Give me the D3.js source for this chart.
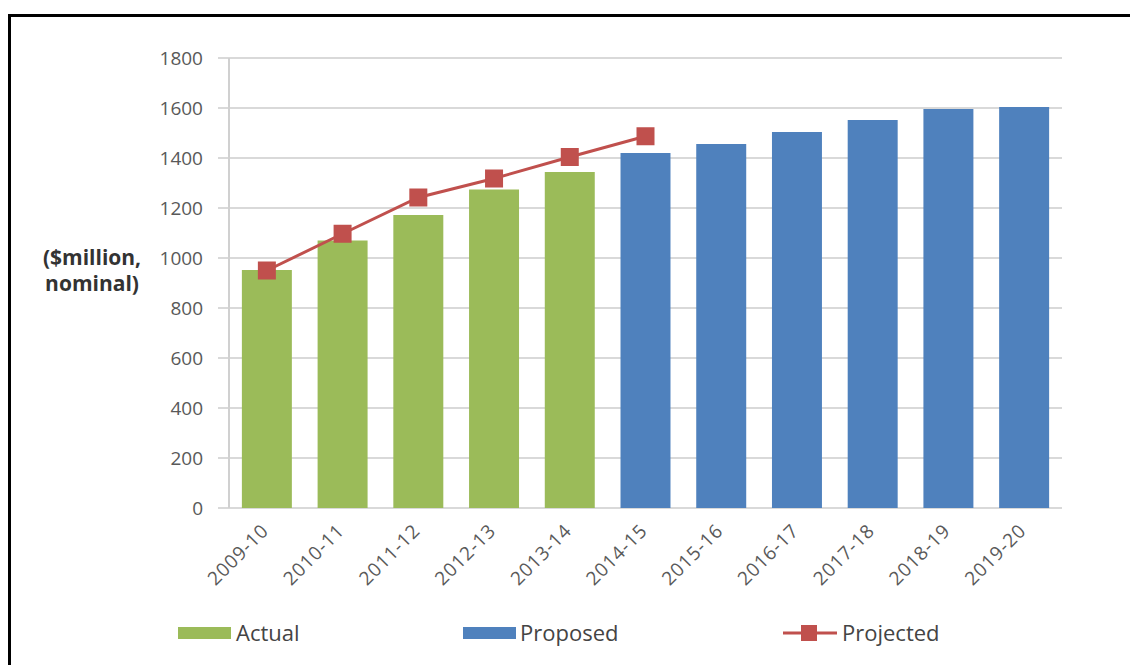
<!DOCTYPE html>
<html>
<head>
<meta charset="utf-8">
<script src="https://cdn.jsdelivr.net/npm/d3@7"></script>
<style>
    body { margin: 0; background: #fff; }
    svg { display: block; font-family: "Open Sans", "DejaVu Sans", sans-serif; }
</style>
</head>
<body>
<div id="chart"></div>
<script>
// chart data
let years = ["2009-10", "2010-11", "2011-12", "2012-13", "2013-14", "2014-15",
    "2015-16", "2016-17", "2017-18", "2018-19", "2019-20"];
let budget = [952, 1070, 1172, 1274, 1344, 1420, 1456, 1504, 1552, 1596, 1604];
let status = ["Actual", "Actual", "Actual", "Actual", "Actual", "Proposed",
    "Proposed", "Proposed", "Proposed", "Proposed", "Proposed"];
let projYears = ["2009-10", "2010-11", "2011-12", "2012-13", "2013-14", "2014-15"];
let projected = [950, 1097, 1242, 1318, 1404, 1487];
let yTicks = [0, 200, 400, 600, 800, 1000, 1200, 1400, 1600, 1800];

let colors = {Actual: "#9bbb59", Proposed: "#4f81bd", Projected: "#c0504d"};

let width = 1130, height = 665;
let margin = {top: 58, right: 68, bottom: 157, left: 229};

let svg = d3.select("#chart").append("svg")
    .attr("width", width)
    .attr("height", height);

// outer frame (top and left edges visible)
svg.append("path")
    .attr("d", "M9.5,665 V15.5 H1130")
    .attr("fill", "none")
    .attr("stroke", "#000")
    .attr("stroke-width", 3);

let x = d3.scaleBand()
    .domain(years)
    .range([margin.left, width - margin.right])
    .paddingInner(0.34)
    .paddingOuter(0.17);

let y = d3.scaleLinear()
    .domain([0, 1800])
    .range([height - margin.bottom, margin.top]);

// gridlines
svg.append("g")
    .selectAll("line")
    .data(yTicks)
    .enter()
    .append("line")
    .attr("x1", margin.left - 11)
    .attr("x2", width - margin.right)
    .attr("y1", d => y(d))
    .attr("y2", d => y(d))
    .attr("stroke", "#d9d9d9")
    .attr("stroke-width", 2);

// y axis line
svg.append("line")
    .attr("x1", margin.left).attr("x2", margin.left)
    .attr("y1", y(1800)).attr("y2", y(0))
    .attr("stroke", "#d0d0d0")
    .attr("stroke-width", 2);

// y tick labels
svg.append("g")
    .selectAll("text")
    .data(yTicks)
    .enter()
    .append("text")
    .attr("x", 203)
    .attr("y", d => y(d))
    .attr("dy", "0.35em")
    .attr("text-anchor", "end")
    .attr("font-size", 19)
    .attr("fill", "#595959")
    .text(d => d);

// y axis title
let ytitle = svg.append("text")
    .attr("text-anchor", "middle")
    .attr("font-size", 21)
    .attr("font-weight", "bold")
    .attr("fill", "#333");
ytitle.append("tspan").attr("x", 92).attr("y", 265).text("($million,");
ytitle.append("tspan").attr("x", 92).attr("y", 291).text("nominal)");

// bars
svg.append("g")
    .selectAll("rect")
    .data(years)
    .enter()
    .append("rect")
    .attr("x", d => x(d))
    .attr("width", x.bandwidth())
    .attr("y", (d, i) => y(budget[i]))
    .attr("height", (d, i) => y(0) - y(budget[i]))
    .attr("fill", (d, i) => colors[status[i]]);

// projected line
let line = d3.line()
    .x((d, i) => x(projYears[i]) + x.bandwidth() / 2)
    .y(d => y(d));

svg.append("path")
    .datum(projected)
    .attr("d", line)
    .attr("fill", "none")
    .attr("stroke", colors.Projected)
    .attr("stroke-width", 3);

svg.append("g")
    .selectAll("rect")
    .data(projected)
    .enter()
    .append("rect")
    .attr("x", (d, i) => x(projYears[i]) + x.bandwidth() / 2 - 9)
    .attr("y", d => y(d) - 9)
    .attr("width", 18)
    .attr("height", 18)
    .attr("fill", colors.Projected);

// x labels, rotated
svg.append("g")
    .selectAll("text")
    .data(years)
    .enter()
    .append("text")
    .attr("transform", d => `translate(${x(d) + x.bandwidth() / 2 + 3}, ${y(0) + 24}) rotate(-45)`)
    .attr("text-anchor", "end")
    .attr("font-size", 19)
    .attr("letter-spacing", 0.8)
    .attr("fill", "#595959")
    .text(d => d);

// legend
let legY = 633;
let legend = svg.append("g");

legend.append("rect")
    .attr("x", 178).attr("y", legY - 6)
    .attr("width", 53).attr("height", 12)
    .attr("fill", colors.Actual);
legend.append("text")
    .attr("x", 236).attr("y", legY).attr("dy", "0.35em")
    .attr("font-size", 22).attr("fill", "#444")
    .text("Actual");

legend.append("rect")
    .attr("x", 463).attr("y", legY - 6)
    .attr("width", 53).attr("height", 12)
    .attr("fill", colors.Proposed);
legend.append("text")
    .attr("x", 520).attr("y", legY).attr("dy", "0.35em")
    .attr("font-size", 22).attr("fill", "#444")
    .text("Proposed");

legend.append("line")
    .attr("x1", 783).attr("x2", 837)
    .attr("y1", legY).attr("y2", legY)
    .attr("stroke", colors.Projected)
    .attr("stroke-width", 3);
legend.append("rect")
    .attr("x", 801).attr("y", legY - 8)
    .attr("width", 16).attr("height", 16)
    .attr("fill", colors.Projected);
legend.append("text")
    .attr("x", 842).attr("y", legY).attr("dy", "0.35em")
    .attr("font-size", 22).attr("fill", "#444")
    .text("Projected");
</script>
</body>
</html>
